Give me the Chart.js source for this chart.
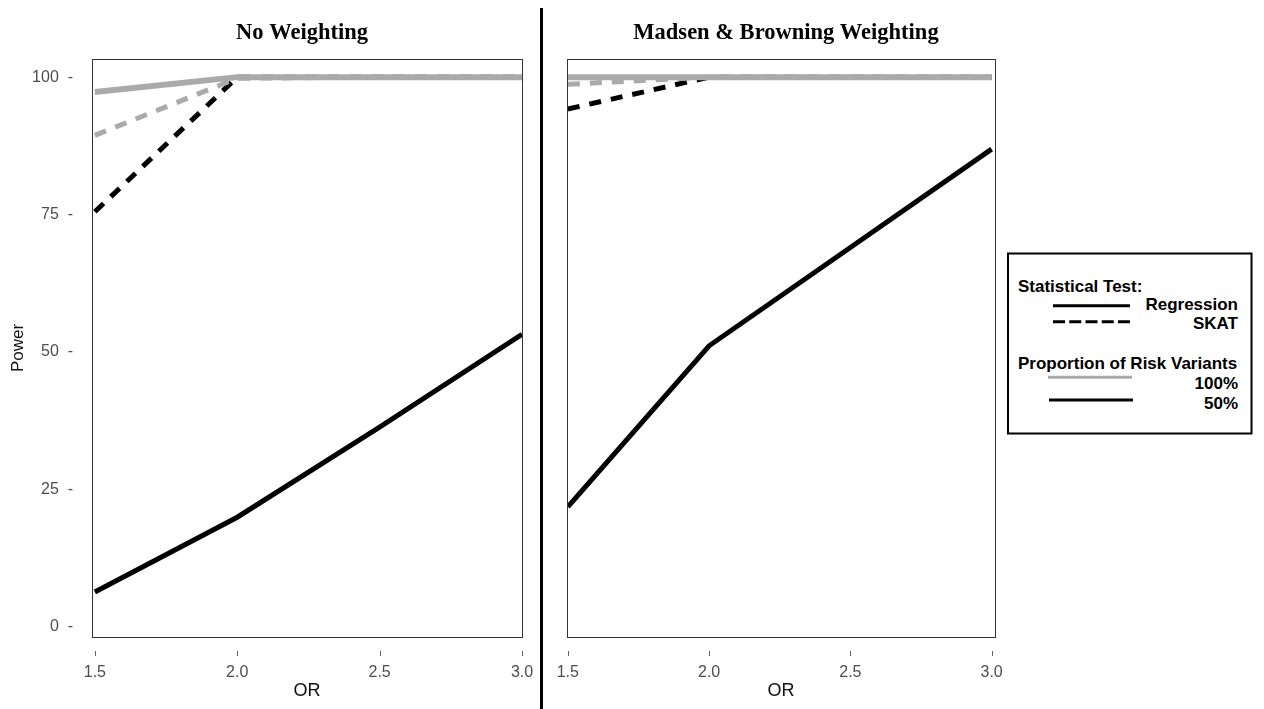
<!DOCTYPE html>
<html>
<head>
<meta charset="utf-8">
<script src="https://cdn.jsdelivr.net/npm/chart.js@4"></script>
<style>
  body { margin: 0; background: #fff; }
  #wrap { position: relative; width: 1264px; height: 709px; overflow: hidden; }
  canvas { position: absolute; left: 0; top: 0; }
  #divider { position: absolute; left: 540px; top: 8px; width: 3px; height: 701px; background: #000; }
  #legend { position: absolute; left: 1005px; top: 250px; }
  #legend text { font-family: "Liberation Sans", Arial, sans-serif; font-weight: bold; font-size: 17px; fill: #000; }
</style>
</head>
<body>
<div id="wrap">
  <canvas id="leftChart" width="1264" height="709"></canvas>
  <canvas id="rightChart" width="1264" height="709"></canvas>
  <div id="divider"></div>
  <svg id="legend" width="252" height="190">
    <rect x="3" y="3.5" width="243.5" height="180" fill="#fff" stroke="#000" stroke-width="2"/>
    <text x="13" y="41.6">Statistical Test:</text>
    <line x1="48" y1="55.7" x2="125" y2="55.7" stroke="#000" stroke-width="3"/>
    <text x="233" y="60" text-anchor="end">Regression</text>
    <line x1="48" y1="71.7" x2="125" y2="71.7" stroke="#000" stroke-width="3" stroke-dasharray="12 4.25"/>
    <text x="233" y="79.3" text-anchor="end">SKAT</text>
    <text x="13" y="118.7">Proportion of Risk Variants</text>
    <line x1="43" y1="127.3" x2="127" y2="127.3" stroke="#aaa" stroke-width="3"/>
    <text x="233" y="139.3" text-anchor="end">100%</text>
    <line x1="44" y1="150" x2="128" y2="150" stroke="#000" stroke-width="3"/>
    <text x="233" y="158.7" text-anchor="end">50%</text>
  </svg>
</div>
<script>
  const orValues = [1.5, 2.0, 2.5, 3.0];
  const xTickValues = [1.5, 2.0, 2.5, 3.0];
  const yTickValues = [0, 25, 50, 75, 100];

  // No Weighting
  const noWeightRegression100 = [97.3, 100, 100, 100];
  const noWeightSkat100 = [89.4, 99.8, 100, 100];
  const noWeightSkat50 = [75.5, 100, 100, 100];
  const noWeightRegression50 = [6.3, 19.9, 36.3, 53.2];

  // Madsen & Browning Weighting
  const mbRegression100 = [100, 100, 100, 100];
  const mbSkat100 = [98.7, 100, 100, 100];
  const mbSkat50 = [94.2, 100, 100, 100];
  const mbRegression50 = [21.8, 51.1, 69.0, 86.9];

  const gray = '#aaaaaa';
  const sans = '"Liberation Sans", Arial, sans-serif';

  function series(label, values, color, dash, width) {
    return {
      label: label,
      data: orValues.map((x, i) => ({ x: x, y: values[i] })),
      borderColor: color,
      borderWidth: width,
      borderDash: dash,
      borderCapStyle: 'butt',
      pointRadius: 0,
      tension: 0,
      fill: false
    };
  }

  // box round the panel, little x tick marks, panel title
  const panelDecor = {
    id: 'panelDecor',
    afterDraw(chart, args, opts) {
      const ctx = chart.ctx;
      const a = chart.chartArea;
      const x = chart.scales.x;
      ctx.save();
      ctx.strokeStyle = '#333';
      ctx.lineWidth = 1;
      ctx.strokeRect(a.left + 0.5, a.top + 0.5, a.right - a.left, a.bottom - a.top);
      ctx.strokeStyle = '#666';
      x.ticks.forEach(t => {
        const px = Math.round(x.getPixelForValue(t.value)) + 0.5;
        ctx.beginPath();
        ctx.moveTo(px, a.bottom + 14);
        ctx.lineTo(px, a.bottom + 19);
        ctx.stroke();
      });
      ctx.fillStyle = '#000';
      ctx.font = 'bold 22.5px "Liberation Serif", "Times New Roman", serif';
      ctx.textAlign = 'center';
      ctx.textBaseline = 'alphabetic';
      ctx.fillText(opts.title, (a.left + a.right) / 2 + opts.dx, 39);
      ctx.restore();
    }
  };

  function makeChart(id, cfg, data) {
    return new Chart(document.getElementById(id), {
      type: 'line',
      data: {
        datasets: [
          series('Regression 100%', data[0], gray, [], 6),
          series('SKAT 100%', data[1], gray, [12, 10], 5),
          series('SKAT 50%', data[2], '#000', [12, 10], 5),
          series('Regression 50%', data[3], '#000', [], 5)
        ]
      },
      plugins: [panelDecor],
      options: {
        responsive: false,
        animation: false,
        events: [],
        layout: { padding: cfg.padding },
        plugins: {
          legend: { display: false },
          tooltip: { enabled: false },
          panelDecor: { title: cfg.title, dx: cfg.titleDx }
        },
        scales: {
          x: {
            type: 'linear',
            min: cfg.xMin,
            max: cfg.xMax,
            grid: { display: false },
            border: { display: false },
            afterBuildTicks: s => { s.ticks = xTickValues.map(v => ({ value: v })); },
            afterFit: s => { s.height = 72; },
            ticks: {
              padding: 18,
              color: '#4d4d4d',
              maxRotation: 0,
              autoSkip: false,
              font: { family: sans, size: 16 },
              callback: v => v.toFixed(1)
            },
            title: {
              display: true,
              text: 'OR',
              color: '#111',
              font: { family: sans, size: 18 },
              padding: { top: 0, bottom: 7 }
            }
          },
          y: {
            display: cfg.showY,
            min: -1.9,
            max: 103.3,
            grid: { display: false },
            border: { display: false },
            afterBuildTicks: s => { s.ticks = yTickValues.map(v => ({ value: v })); },
            afterFit: s => { if (cfg.showY) s.width = 92; },
            ticks: {
              padding: 11,
              color: '#4d4d4d',
              font: { family: sans, size: 16 },
              callback: v => v + '  -'
            },
            title: {
              display: true,
              text: 'Power',
              color: '#111',
              font: { family: sans, size: 17 },
              padding: { top: 8, bottom: 0 }
            }
          }
        }
      }
    });
  }

  makeChart('leftChart', {
    title: 'No Weighting',
    titleDx: -5,
    padding: { top: 59, right: 742, bottom: 0, left: 0 },
    xMin: 1.49, xMax: 3.0, showY: true
  }, [noWeightRegression100, noWeightSkat100, noWeightSkat50, noWeightRegression50]);

  makeChart('rightChart', {
    title: 'Madsen & Browning Weighting',
    titleDx: 5,
    padding: { top: 59, right: 269, bottom: 0, left: 567 },
    xMin: 1.497, xMax: 3.012, showY: false
  }, [mbRegression100, mbSkat100, mbSkat50, mbRegression50]);
</script>
</body>
</html>
